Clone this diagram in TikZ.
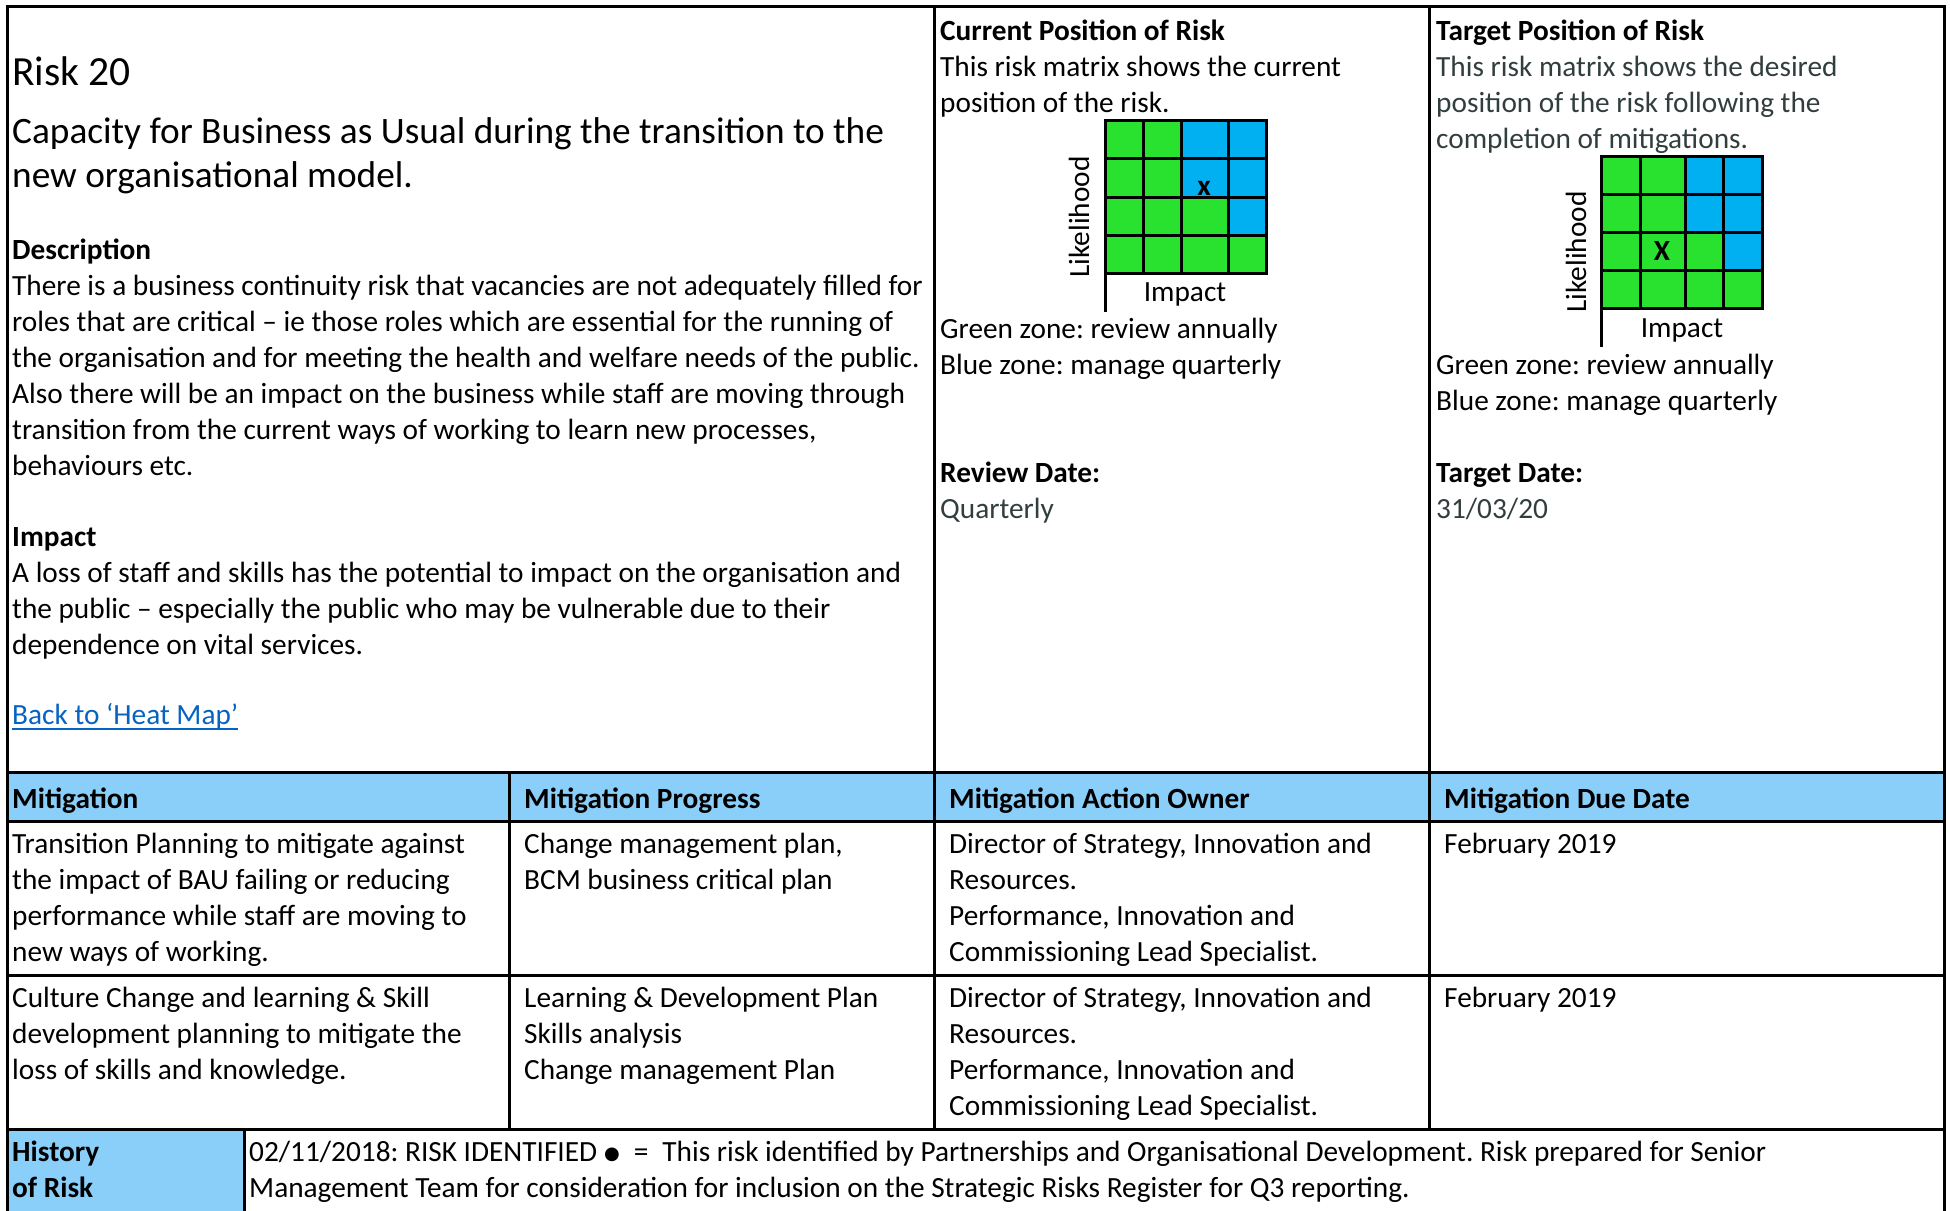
\documentclass[tikz,border=0pt]{standalone}
\usepackage{fontspec}
\setmainfont{Carlito}
\newfontfamily\dejavu{DejaVu Sans}
\usetikzlibrary{positioning}
\frenchspacing

\definecolor{riskgreen}{RGB}{41,226,48}
\definecolor{riskblue}{RGB}{0,176,240}
\definecolor{headblue}{RGB}{138,206,250}
\definecolor{slate}{RGB}{50,62,62}
\definecolor{linkblue}{RGB}{5,99,193}

\newcommand\bodyfont{\fontsize{29.3}{36}\selectfont}
\newcommand\titlefont{\fontsize{37.3}{44}\selectfont}
\newcommand\riskfont{\fontsize{41.5}{44}\selectfont}

\tikzset{
	txt/.style = {anchor=north west, inner sep=0pt, align=left, font=\bodyfont, yshift=25.2pt},
	bigtxt/.style = {anchor=north west, inner sep=0pt, align=left, font=\titlefont, yshift=30.8pt},
	label/.style = {inner sep=0pt, font=\bodyfont},
	rule/.style = {line width=3pt, black},
	grid/.style = {line width=3pt, black}
}

\begin{document}
\begin{tikzpicture}[x=1pt, y=-1pt]
		\useasboundingbox (0,0) rectangle (1950,1210);
		% header fills
		\fill[headblue] (7,772) rectangle (1944,821);
		\fill[headblue] (7,1129) rectangle (244,1212);
		
		% current matrix
		\fill[riskgreen] (1105,120) rectangle (1266,273);
		\fill[riskblue] (1181,120) rectangle (1266,197);
		\fill[riskblue] (1228,197) rectangle (1266,235);
		\foreach \x in {1143,1181,1228}
			\draw[grid] (\x,120) -- (\x,273);
		\foreach \y in {158,197,235}
			\draw[grid] (1105,\y) -- (1266,\y);
		\draw[grid] (1105,120) rectangle (1266,273);
		\draw[grid] (1105,273) -- (1105,312);
		
		% target matrix
		\fill[riskgreen] (1601,156) rectangle (1762,308);
		\fill[riskblue] (1685,156) rectangle (1762,232);
		\fill[riskblue] (1723,232) rectangle (1762,270);
		\foreach \x in {1640,1685,1723}
			\draw[grid] (\x,156) -- (\x,308);
		\foreach \y in {194,232,270}
			\draw[grid] (1601,\y) -- (1762,\y);
		\draw[grid] (1601,156) rectangle (1762,308);
		\draw[grid] (1601,308) -- (1601,347);
		
		% table rules
		\draw[rule] (7,1212) -- (7,6) -- (1944,6) -- (1944,1212);
		\foreach \y in {772,821,975,1129}
			\draw[rule] (7,\y) -- (1944,\y);
		\foreach \x in {934,1429}
			\draw[rule] (\x,6) -- (\x,772);
		\foreach \x in {509,934,1429}
			\draw[rule] (\x,772) -- (\x,1129);
		\draw[rule] (244,1129) -- (244,1212);
		
		% left panel
		\node[label, anchor=base west, font=\riskfont] (risknum) at (12,85) {Risk 20};
		\node[bigtxt] (risktitle) at (12,143) {\strut Capacity for Business as Usual during the transition to the\\new organisational model.};
		\node[txt] (desc) at (12,259) {\strut\textbf{Description}\\There is a business continuity risk that vacancies are not adequately filled for\\roles that are critical – ie those roles which are essential for the running of\\the organisation and for meeting the health and welfare needs of the public.\\Also there will be an impact on the business while staff are moving through\\transition from the current ways of working to learn new processes,\\behaviours etc.};
		\node[txt] (impact) at (12,546) {\strut\textbf{Impact}\\A loss of staff and skills has the potential to impact on the organisation and\\the public – especially the public who may be vulnerable due to their\\dependence on vital services.};
		\node[label, anchor=base west, text=linkblue] (backlink) at (12,724) {Back to ‘Heat Map’};
		\draw[linkblue, line width=2pt] ([yshift=-5pt]backlink.base west) -- ([yshift=-5pt]backlink.base east);
		
		% current position
		\node[txt] (curhead) at (940,40) {\strut\textbf{Current Position of Risk}\\This risk matrix shows the current\\position of the risk.};
		\node[label, anchor=base, font=\bodyfont\bfseries] (curmark) at (1204,195) {x};
		\node[label, rotate=90] (curlik) at (1079,217) {Likelihood};
		\node[label, anchor=base] (curimp) at (1185,301) {Impact};
		\node[txt] (curzone) at (940,338) {\strut Green zone: review annually\\Blue zone: manage quarterly};
		\node[txt] (curdate) at (940,482) {\strut\textbf{Review Date:}\\\color{slate}Quarterly};
		
		% target position
		\node[txt] (tarhead) at (1436,40) {\strut\textbf{Target Position of Risk}\\\color{slate}This risk matrix shows the desired\\\color{slate}position of the risk following the\\\color{slate}completion of mitigations.};
		\node[label, anchor=base, font=\bodyfont\bfseries] (tarmark) at (1662,260) {X};
		\node[label, rotate=90] (tarlik) at (1576,252) {Likelihood};
		\node[label, anchor=base] (tarimp) at (1682,337) {Impact};
		\node[txt] (tarzone) at (1436,374) {\strut Green zone: review annually\\Blue zone: manage quarterly};
		\node[txt] (tardate) at (1436,482) {\strut\textbf{Target Date:}\\\color{slate}31/03/20};
		
		% mitigation table
		\foreach \x/\t [count=\i] in {12/Mitigation, 524/Mitigation Progress, 949/Mitigation Action Owner, 1444/Mitigation Due Date}
			\node[txt, font=\bodyfont\bfseries] (head\i) at (\x,808) {\strut\t};
		\node[txt] (mitone) at (12,853) {\strut Transition Planning to mitigate against\\the impact of BAU failing or reducing\\performance while staff are moving to\\new ways of working.};
		\node[txt] (progone) at (524,853) {\strut Change management plan,\\BCM business critical plan};
		\node[txt] (ownone) at (949,853) {\strut Director of Strategy, Innovation and\\Resources.\\Performance, Innovation and\\Commissioning Lead Specialist.};
		\node[txt] (dueone) at (1444,853) {\strut February 2019};
		\node[txt] (mittwo) at (12,1007) {\strut Culture Change and learning \& Skill\\development planning to mitigate the\\loss of skills and knowledge.};
		\node[txt] (progtwo) at (524,1007) {\strut Learning \& Development Plan\\Skills analysis\\Change management Plan};
		\node[txt] (owntwo) at (949,1007) {\strut Director of Strategy, Innovation and\\Resources.\\Performance, Innovation and\\Commissioning Lead Specialist.};
		\node[txt] (duetwo) at (1444,1007) {\strut February 2019};
		
		% history
		\node[txt, font=\bodyfont\bfseries] (histhead) at (12,1161) {\strut History\\of Risk};
		\node[txt] (histtext) at (249,1161) {\strut 02/11/2018: RISK IDENTIFIED\hspace{7pt}\raisebox{1.5pt}{\dejavu\fontsize{18}{18}\selectfont ●}\hspace{14pt}=\hspace{14pt}This risk identified by Partnerships and Organisational Development. Risk prepared for Senior\\Management Team for consideration for inclusion on the Strategic Risks Register for Q3 reporting.};
	\end{tikzpicture}
\end{document}
